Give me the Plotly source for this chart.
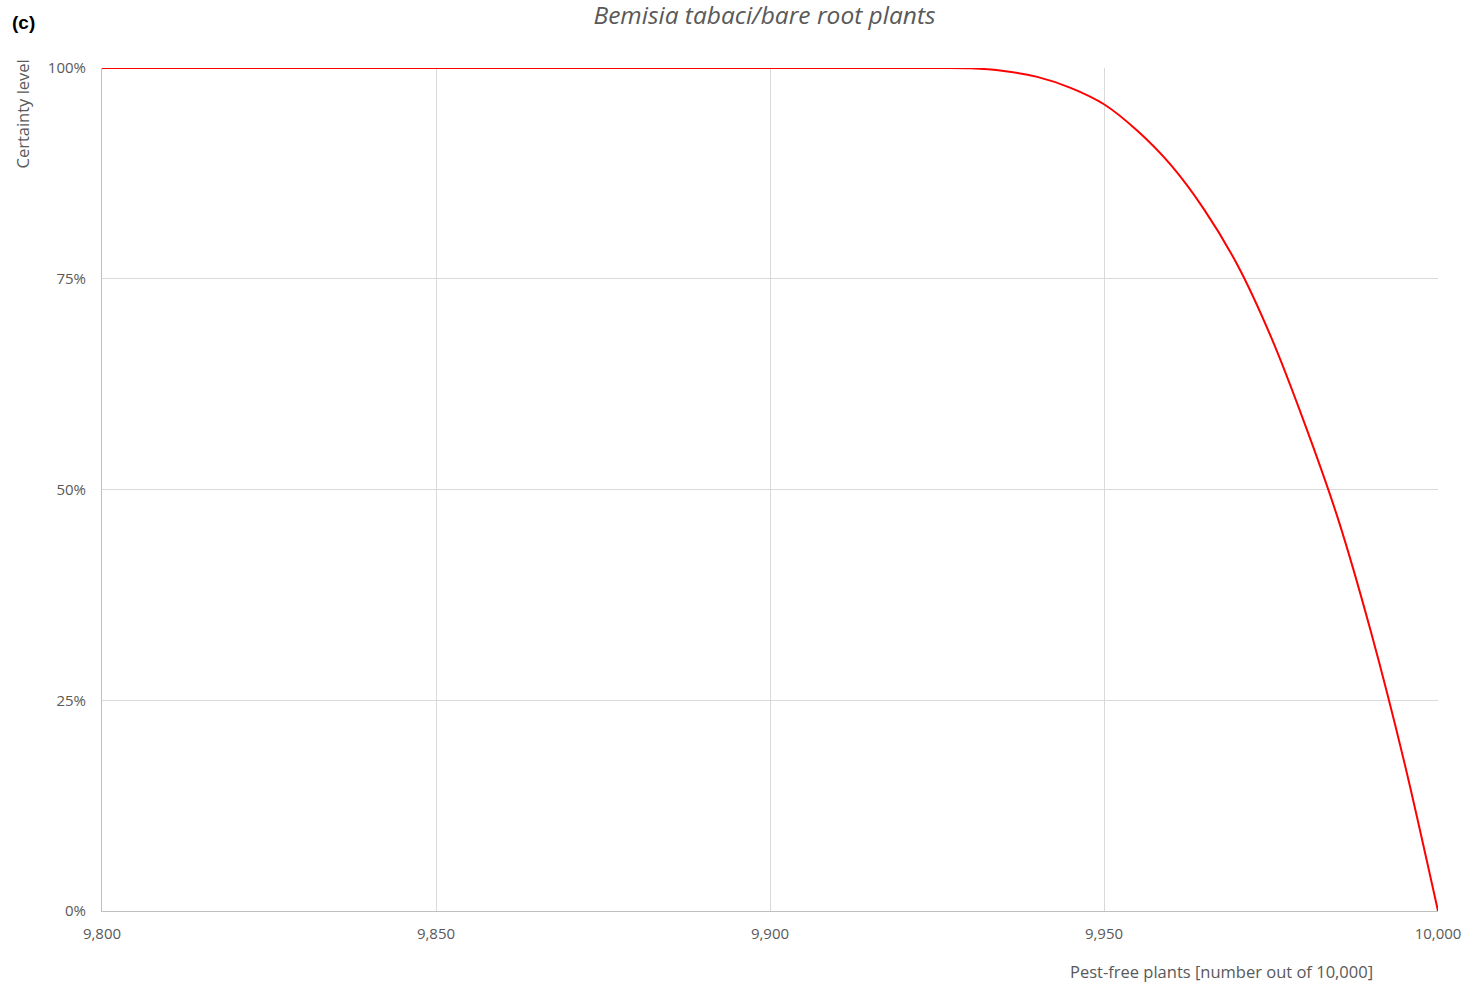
import plotly.graph_objects as go

# Data
pest_free_plants = [9800, 9850, 9900, 9920, 9925, 9930, 9935, 9940, 9945, 9950,
                    9955, 9960, 9965, 9970, 9975, 9980, 9985, 9990, 9995, 10000]
certainty_pct = [100, 100, 100, 100, 100, 99.97, 99.65, 98.95, 97.65, 95.7,
                 92.55, 88.5, 83.2, 76.6, 68.1, 57.9, 46.6, 33.0, 17.5, 0]

x_ticks = [9800, 9850, 9900, 9950, 10000]
y_ticks = [0, 25, 50, 75, 100]
y_tick_labels = ["0%", "25%", "50%", "75%", "100%"]

FONT = "Open Sans"
GREY_TXT = "#595959"
GRID = "#d9d9d9"

fig = go.Figure()
fig.add_trace(go.Scatter(
    x=pest_free_plants, y=certainty_pct, mode="lines",
    line=dict(color="#ff0000", width=2, shape="spline", smoothing=0.8),
    showlegend=False, hoverinfo="skip", cliponaxis=False,
))

fig.update_layout(
    width=1467, height=985,
    margin=dict(l=102, r=29, t=68, b=74, autoexpand=False),
    paper_bgcolor="white", plot_bgcolor="white",
    font=dict(family=FONT, color=GREY_TXT, size=15),
    title=dict(text="<i>Bemisia tabaci/bare root plants</i>",
               x=764.5 / 1467, xref="container", xanchor="center",
               y=1 - 15 / 985, yref="container", yanchor="middle",
               font=dict(family=FONT, size=24.5, color=GREY_TXT)),
    xaxis=dict(range=[9800, 10000], tickvals=x_ticks, tickformat=",d",
               showgrid=True, gridcolor=GRID, gridwidth=1, automargin=False,
               showline=True, linecolor="#bfbfbf", linewidth=1,
               ticks="", ticklabelstandoff=9, zeroline=False,
               tickfont=dict(family=FONT, size=15, color=GREY_TXT)),
    yaxis=dict(range=[0, 100], tickvals=y_ticks, ticktext=y_tick_labels,
               showgrid=True, gridcolor=GRID, gridwidth=1, automargin=False,
               showline=True, linecolor="#bfbfbf", linewidth=1,
               ticks="", ticklabelstandoff=12, zeroline=False,
               tickfont=dict(family=FONT, size=15, color=GREY_TXT)),
)

fig.add_annotation(text="Pest-free plants [number out of 10,000]",
                   xref="paper", yref="paper", x=1.0, y=0, xshift=-63, yshift=-60,
                   xanchor="right", yanchor="middle", showarrow=False,
                   font=dict(family=FONT, size=16.5, color=GREY_TXT))
fig.add_annotation(text="Certainty level", textangle=-90,
                   xref="paper", yref="paper", x=0, y=1, xshift=-80, yshift=10,
                   xanchor="center", yanchor="top", showarrow=False,
                   font=dict(family=FONT, size=16.5, color=GREY_TXT))
fig.add_annotation(text="<b>(c)</b>",
                   xref="paper", yref="paper", x=0, y=1, xshift=-92, yshift=46,
                   xanchor="left", yanchor="middle", showarrow=False,
                   font=dict(family="Liberation Sans", size=19, color="black"))

fig.write_html(
    "out.html",
    config={"displayModeBar": False, "responsive": False},
    post_script=("document.documentElement.style.overflow='hidden';"
                 "document.body.style.overflow='hidden';"
                 "document.body.style.margin='0';"),
)
